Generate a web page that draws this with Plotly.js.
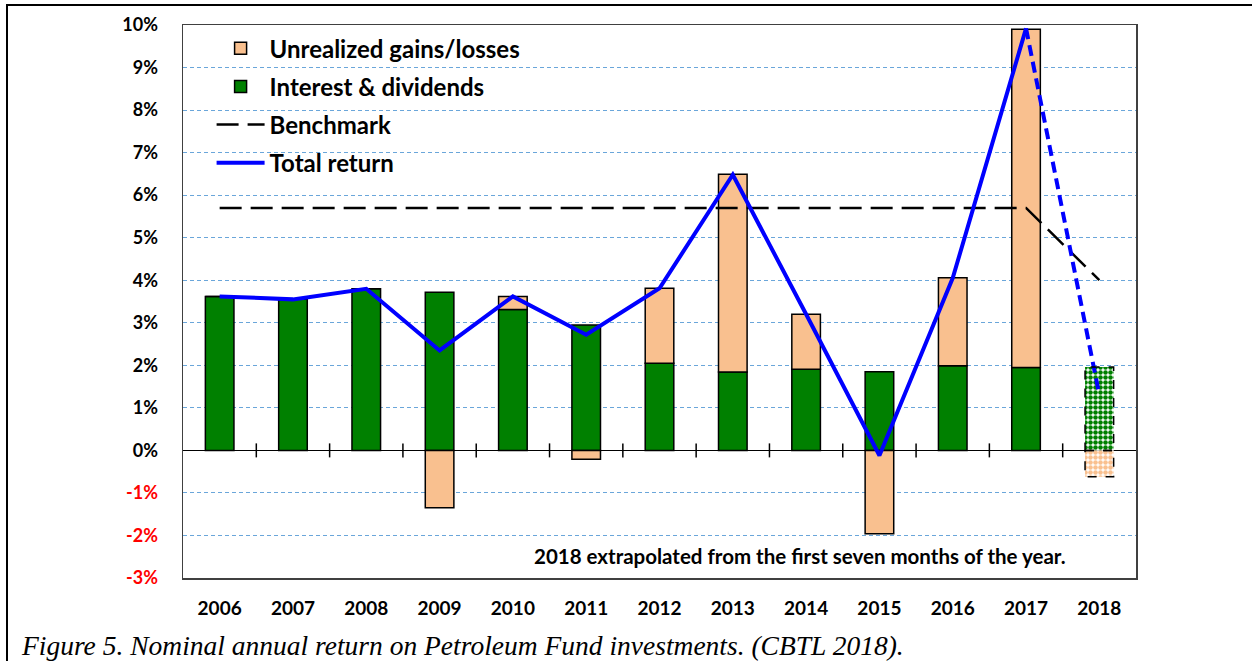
<!DOCTYPE html>
<html>
<head>
<meta charset="utf-8">
<script src="https://cdn.plot.ly/plotly-3.0.1.min.js"></script>
<style>
  html, body { margin: 0; padding: 0; background: #fff; }
  #wrap { position: relative; width: 1252px; height: 661px; overflow: hidden; }
  #frame { position: absolute; left: 6px; top: 4px; width: 1400px; height: 800px;
           border-left: 2.5px solid #000; border-top: 2.5px solid #000; pointer-events: none; z-index: 5; }
  #chart { position: absolute; left: 0; top: 0; width: 1252px; height: 661px; }
</style>
</head>
<body>
<div id="wrap">
  <div id="chart"></div>
  <div id="frame"></div>
</div>
<script>
// ---- data ----
const years = [2006, 2007, 2008, 2009, 2010, 2011, 2012, 2013, 2014, 2015, 2016, 2017, 2018];
const interestDividends = [3.62, 3.55, 3.80, 3.72, 3.31, 2.95, 2.05, 1.84, 1.91, 1.85, 1.99, 1.95, 1.96];
const unrealizedGains = [0, 0, 0, -1.35, 0.31, -0.21, 1.76, 4.65, 1.29, -1.96, 2.07, 7.95, -0.62];
const totalReturn = [3.62, 3.55, 3.80, 2.35, 3.62, 2.72, 3.81, 6.48, 3.20, -0.12, 4.05, 9.92, 1.30];
const benchmark = [5.7, 5.7, 5.7, 5.7, 5.7, 5.7, 5.7, 5.7, 5.7, 5.7, 5.7, 5.7, 4.0];
const yTicks = [-3, -2, -1, 0, 1, 2, 3, 4, 5, 6, 7, 8, 9, 10];
const seriesNames = ['Unrealized gains/losses', 'Interest & dividends', 'Benchmark', 'Total return'];
const noteText = '2018 extrapolated from the first seven months of the year.';
const captionText = 'Figure 5. Nominal annual return on Petroleum Fund investments. (CBTL 2018).';

// ---- styling ----
const GREEN = '#008000';
const PEACH = '#F9C08F';
const BAR_W = 0.39;
const n = years.length;
const last = n - 1;
const isExtrap = years.map((_, i) => i === last);

const fontBold = 'Lato, "Open Sans", sans-serif';

const traceInterest = {
  type: 'bar', name: seriesNames[1], x: years, y: interestDividends, width: BAR_W,
  legendrank: 2, legendgroup: 'g2',
  marker: {
    color: GREEN,
    line: { color: '#000', width: isExtrap.map(e => e ? 0 : 1.5) },
    pattern: {
      shape: isExtrap.map(e => e ? '.' : ''),
      fgcolor: GREEN, bgcolor: isExtrap.map(e => e ? '#ffffff' : GREEN),
      size: 5, solidity: 0.65, fillmode: 'replace'
    }
  },
  hoverinfo: 'x+y'
};
const traceUnreal = {
  type: 'bar', name: seriesNames[0], x: years, y: unrealizedGains, width: BAR_W,
  legendrank: 1, legendgroup: 'g1',
  marker: {
    color: PEACH,
    line: { color: '#000', width: isExtrap.map(e => e ? 0 : 1.5) },
    pattern: {
      shape: isExtrap.map(e => e ? '.' : ''),
      fgcolor: PEACH, bgcolor: isExtrap.map(e => e ? '#ffffff' : PEACH),
      size: 5, solidity: 0.65, fillmode: 'replace'
    }
  },
  hoverinfo: 'x+y'
};
const traceBench = {
  type: 'scatter', mode: 'lines', name: seriesNames[2], x: years, y: benchmark,
  legendrank: 3, legendgroup: 'g3',
  line: { color: '#000', width: 2.5, dash: '22px,9px' }
};
const traceTotal = {
  type: 'scatter', mode: 'lines', name: seriesNames[3],
  x: years.slice(0, last), y: totalReturn.slice(0, last),
  legendrank: 4, legendgroup: 'g4',
  line: { color: '#0000FF', width: 4 }
};
const traceTotalExt = {
  type: 'scatter', mode: 'lines', name: seriesNames[3] + ' (extrapolated)', showlegend: false,
  x: years.slice(last - 1), y: totalReturn.slice(last - 1),
  legendgroup: 'g4',
  line: { color: '#0000FF', width: 4, dash: '11px,6px' }
};

// dashed outlines of the extrapolated bars + tick marks on the zero line
const shapes = [];
[interestDividends[last], unrealizedGains[last]].forEach(v => {
  shapes.push({
    type: 'rect', xref: 'x', yref: 'y', layer: 'above',
    x0: years[last] - BAR_W / 2, x1: years[last] + BAR_W / 2, y0: 0, y1: v,
    line: { color: '#000', width: 1.5, dash: 'dash' }, fillcolor: 'rgba(0,0,0,0)'
  });
});
for (let i = 0; i < n - 1; i++) {
  const xb = (years[i] + years[i + 1]) / 2;
  shapes.push({
    type: 'line', xref: 'x', yref: 'y', ysizemode: 'pixel', yanchor: 0,
    x0: xb, x1: xb, y0: -7, y1: 7, layer: 'above',
    line: { color: '#000', width: 1.5 }
  });
}

const layout = {
  width: 1252, height: 661,
  margin: { l: 183, r: 116, t: 25, b: 83 },
  paper_bgcolor: '#fff', plot_bgcolor: '#fff',
  barmode: 'relative',
  showlegend: true,
  font: { family: fontBold, color: '#000' },
  xaxis: {
    range: [years[0] - 0.5, years[last] + 0.5],
    tickvals: years, ticktext: years.map(String),
    tickfont: { family: fontBold, size: 19, weight: 'bold', color: '#000' },
    ticks: '', ticklabelstandoff: 13,
    showgrid: false, zeroline: false,
    showline: true, mirror: true, linecolor: '#404040', linewidth: 1.5
  },
  yaxis: {
    range: [yTicks[0], yTicks[yTicks.length - 1]],
    tickvals: yTicks,
    ticktext: yTicks.map(v => v < 0 ? '<span style="color:#FF0000">' + v + '%</span>' : v + '%'),
    tickfont: { family: fontBold, size: 18, weight: 'bold', color: '#000' },
    ticks: '', ticklabelstandoff: 20,
    showgrid: true, gridcolor: '#6AA6DA', gridwidth: 1, griddash: '4px,3px',
    zeroline: true, zerolinecolor: '#000', zerolinewidth: 1.5,
    showline: true, mirror: true, linecolor: '#404040', linewidth: 1.5
  },
  legend: {
    x: 0.03, y: 0.998, xanchor: 'left', yanchor: 'top',
    bgcolor: 'rgba(255,255,255,0)', borderwidth: 0,
    traceorder: 'grouped', tracegroupgap: 4, itemwidth: 48,
    font: { family: fontBold, size: 24, weight: 'bold', color: '#000' }
  },
  shapes: shapes,
  annotations: [
    {
      text: noteText, xref: 'paper', yref: 'y', x: 0.647, y: -2.48,
      xanchor: 'center', yanchor: 'middle', showarrow: false,
      font: { family: fontBold, size: 20.5, weight: 'bold', color: '#000' }
    },
    {
      text: captionText, xref: 'paper', yref: 'paper', x: -0.172, y: -0.122,
      xanchor: 'left', yanchor: 'middle', showarrow: false,
      font: { family: '"Liberation Serif", "Times New Roman", serif', size: 27.5, style: 'italic', color: '#000' }
    }
  ]
};

Plotly.newPlot('chart', [traceInterest, traceUnreal, traceBench, traceTotal, traceTotalExt], layout,
  { displayModeBar: false, staticPlot: true });
</script>
</body>
</html>
